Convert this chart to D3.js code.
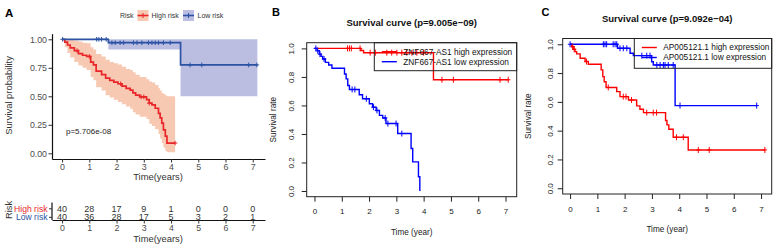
<!DOCTYPE html>
<html><head><meta charset="utf-8">
<script src="https://cdn.jsdelivr.net/npm/d3@7"></script>
<style>body{margin:0;background:#fff}svg{display:block;font-family:"Liberation Sans",Arial,Helvetica,sans-serif}</style>
</head><body><svg id="c" width="780" height="251"></svg>
<script>
// ---------- Panel A data ----------
const timeTicks = [0,1,2,3,4,5,6,7];
const survTicksA = [0,0.25,0.5,0.75,1];
const riskGroups = ["High risk","Low risk"];
const aHighT = [0,0.1,0.2,0.3,0.45,0.6,0.75,0.9,1.05,1.15,1.25,1.45,1.6,1.75,1.9,2.05,2.2,2.35,2.5,2.6,2.7,2.85,3.1,3.2,3.3,3.42,3.54,3.6,3.66,3.72,3.79,3.85,4.15];
const aHighS = [1,0.975,0.95,0.925,0.9,0.875,0.86,0.85,0.8,0.775,0.72,0.69,0.66,0.64,0.625,0.61,0.59,0.57,0.555,0.53,0.51,0.495,0.47,0.44,0.425,0.395,0.35,0.31,0.265,0.205,0.15,0.09,0.09];
const aHighU = [1,1,1,1,0.99,0.98,0.97,0.965,0.93,0.91,0.87,0.85,0.82,0.8,0.79,0.78,0.76,0.74,0.73,0.71,0.69,0.67,0.65,0.63,0.62,0.6,0.57,0.55,0.53,0.52,0.51,0.5,0.5];
const aHighL = [1,0.93,0.88,0.84,0.8,0.77,0.75,0.73,0.67,0.64,0.58,0.55,0.51,0.49,0.47,0.45,0.43,0.41,0.39,0.36,0.34,0.32,0.3,0.26,0.24,0.21,0.17,0.13,0.09,0.05,0.02,0.01,0.01];
const aHighCens = [0.55,1.0,2.15,2.9,3.0,3.2,4.15];
const aLowT = [0,1.7,4.35,7.17];
const aLowS = [1,0.97,0.775,0.775];
const aLowU = [1,1,1,1];
const aLowL = [1,0.91,0.5,0.5];
const aLowCens = [0.02,1.27,1.35,1.45,1.62,1.83,1.95,2.13,2.26,2.62,2.75,2.93,3.17,3.3,3.42,3.54,3.72,3.97,4.7,5.13,6.85,7.15];
const riskHigh = [40,28,17,9,1,0,0,0];
const riskLow = [40,36,28,17,5,3,2,1];
const pA = "p=5.706e-08";

// ---------- Panel B data ----------
const survTicksBC = [0,0.2,0.4,0.6,0.8,1.0];
const bHighT = [0,1.7,1.8,4.36,7.1];
const bHighS = [1,0.985,0.97,0.78,0.78];
const bHighCens = [1.21,1.28,1.35,1.67,2.04,2.23,2.65,2.83,3.02,3.2,3.38,3.57,3.75,4.0,4.67,5.09,6.8,7.1];
const bLowT = [0,0.1,0.18,0.24,0.3,0.4,0.52,0.64,1.1,1.16,1.22,1.28,1.64,1.76,2.01,2.13,2.26,2.38,2.5,2.62,3.05,3.54,3.6,3.81,3.86];
const bLowS = [1,0.984,0.96,0.944,0.926,0.902,0.884,0.861,0.82,0.786,0.74,0.712,0.675,0.647,0.612,0.588,0.565,0.53,0.512,0.473,0.403,0.298,0.204,0.1,0];
const bLowCens = [0.05,0.12,0.2,0.35,1.38,1.48,1.9,2.16,2.29,2.59,2.69,2.99,3.2];
const bTitle = "Survival curve (p=9.005e\u221209)";
const bLegend = ["ZNF667-AS1 high expression","ZNF667-AS1 low expression"];

// ---------- Panel C data ----------
const cHighT = [0,0.06,0.12,0.18,0.24,0.37,0.55,0.67,1.14,1.2,1.25,1.32,1.71,1.83,2.14,2.44,2.56,2.69,3.5,3.55,3.62,3.78,4.33,7.14];
const cHighS = [1,0.983,0.965,0.949,0.933,0.903,0.88,0.861,0.822,0.775,0.74,0.7,0.671,0.636,0.613,0.572,0.549,0.525,0.47,0.44,0.41,0.354,0.266,0.266];
const cHighCens = [0.1,0.15,0.6,1.4,1.95,2.05,2.25,2.81,3.05,3.17,3.9,4.15,4.7,5.1,7.14];
const cLowT = [0,1.74,2.2,2.32,2.99,3.05,3.85,6.84];
const cLowS = [1,0.972,0.9375,0.921,0.879,0.856,0.574,0.574];
const cLowCens = [0.0,1.22,1.28,1.34,1.58,1.65,1.71,1.83,1.95,2.08,2.63,2.81,2.93,3.18,3.3,3.42,3.48,3.6,3.78,4.03,6.84];
const cTitle = "Survival curve (p=9.092e\u221204)";
const cLegend = ["AP005121.1 high expression","AP005121.1 low expression"];

// ---------- helpers ----------
const svg = d3.select("#c");
function stepVal(T,S,t){let v=S[0];for(let i=0;i<T.length;i++){if(T[i]<=t+1e-9)v=S[i];}return v;}
function curve(g,x,y,T,S,color,w){
  const line=d3.line().x(d=>x(d[0])).y(d=>y(d[1])).curve(d3.curveStepAfter);
  g.append("path").datum(T.map((t,i)=>[t,S[i]])).attr("d",line).attr("fill","none").attr("stroke",color).attr("stroke-width",w);
}
function band(g,x,y,T,L,U,fill){
  const area=d3.area().x(d=>x(d[0])).y0(d=>y(d[1])).y1(d=>y(d[2])).curve(d3.curveStepAfter);
  g.append("path").datum(T.map((t,i)=>[t,L[i],U[i]])).attr("d",area).attr("fill",fill).attr("stroke","none");
}
function cens(g,x,y,C,T,S,color,h,wd,sw){
  C.forEach(t=>{const cx=x(t),cy=y(stepVal(T,S,t));
    g.append("path").attr("d",`M${cx-wd},${cy}H${cx+wd}M${cx},${cy-h}V${cy+h}`).attr("stroke",color).attr("stroke-width",sw).attr("fill","none");});
}

// ================= Panel A =================
const redA="#E8262A", blueA="#2B52A3";
const xA=d3.scaleLinear().domain([-0.37,7.45]).range([52,265]);
const yA=d3.scaleLinear().domain([-0.05,1.05]).range([159,33.6]);
const gA=svg.append("g");
gA.append("text").attr("x",5).attr("y",16.5).attr("font-size",11.5).attr("font-weight","bold").text("A");
// legend
const lg=gA.append("g").attr("font-size",7).attr("fill","#333");
lg.append("text").attr("x",120).attr("y",18).text("Risk");
[[137.5,"#F8C9B2",redA,"High risk",151.5],[183,"#BBBEE0",blueA,"Low risk",197.5]].forEach(k=>{
  lg.append("rect").attr("x",k[0]).attr("y",10).attr("width",11).attr("height",11).attr("fill",k[1]);
  lg.append("line").attr("x1",k[0]).attr("x2",k[0]+11).attr("y1",15.5).attr("y2",15.5).attr("stroke",k[2]).attr("stroke-width",1.6);
  lg.append("path").attr("d",`M${k[0]+5.5},13V18`).attr("stroke",k[2]).attr("stroke-width",1);
  lg.append("text").attr("x",k[4]).attr("y",18).text(k[3]);
});
band(gA,xA,yA,aHighT,aHighL,aHighU,"#F8C9B2");
band(gA,xA,yA,aLowT,aLowL,aLowU,"#BBBEE0");
curve(gA,xA,yA,aHighT,aHighS,redA,1.7);
curve(gA,xA,yA,aLowT,aLowS,blueA,1.7);
cens(gA,xA,yA,aHighCens,aHighT,aHighS,redA,2.3,2.3,1);
cens(gA,xA,yA,aLowCens,aLowT,aLowS,blueA,2.3,2.3,1);
function styleA(sel){sel.select(".domain").attr("stroke","#111").attr("stroke-width",1.2);
  sel.selectAll(".tick line").attr("stroke","#333");
  sel.selectAll(".tick text").attr("fill","#4D4D4D").attr("font-size",8.8).attr("font-family","Liberation Sans, Arial, sans-serif");}
gA.append("g").attr("transform","translate(0,159)").call(d3.axisBottom(xA).tickValues(timeTicks).tickSize(3.5).tickSizeOuter(0).tickPadding(1.5)).call(styleA);
gA.append("g").attr("transform","translate(52,0)").call(d3.axisLeft(yA).tickValues(survTicksA).tickFormat(d3.format(".2f")).tickSize(3.5).tickSizeOuter(0).tickPadding(1.5)).call(styleA);
gA.append("text").attr("x",158).attr("y",180).attr("text-anchor","middle").attr("font-size",9.4).attr("fill","#333").text("Time(years)");
gA.append("text").attr("transform","translate(8,95.5) rotate(-90)").attr("text-anchor","middle").attr("dominant-baseline","central").attr("font-size",9.4).attr("fill","#333").text("Survival probability");
gA.append("text").attr("x",66).attr("y",133.8).attr("font-size",8).attr("fill","#222").text(pA);
// risk table
const yT=d3.scalePoint().domain(riskGroups).range([208.3,216.8]);
const tab=gA.append("g");
tab.append("line").attr("x1",52).attr("x2",52).attr("y1",202.5).attr("y2",220).attr("stroke","#111").attr("stroke-width",1.2);
const ax=tab.append("g").attr("transform","translate(52,0)").call(d3.axisLeft(yT).tickSize(3).tickSizeOuter(0).tickPadding(1.5));
ax.select(".domain").remove();
ax.selectAll(".tick line").attr("stroke","#333");
ax.selectAll(".tick text").attr("font-size",8.6).attr("font-family","Liberation Sans, Arial, sans-serif").attr("fill",d=>d==="High risk"?redA:blueA);
[[riskHigh,"High risk"],[riskLow,"Low risk"]].forEach(r=>{
  tab.selectAll(null).data(r[0]).enter().append("text").attr("x",(d,i)=>xA(timeTicks[i])).attr("y",yT(r[1])).attr("dy","0.36em")
    .attr("text-anchor","middle").attr("font-size",9).attr("fill","#333").text(d=>d);
});
tab.append("g").attr("transform","translate(0,220)").call(d3.axisBottom(xA).tickValues(timeTicks).tickSize(3.5).tickSizeOuter(0).tickPadding(1.5)).call(styleA);
tab.append("text").attr("x",158).attr("y",242).attr("text-anchor","middle").attr("font-size",9.4).attr("fill","#333").text("Time(years)");
tab.append("text").attr("transform","translate(8,210) rotate(-90)").attr("text-anchor","middle").attr("dominant-baseline","central").attr("font-size",9.4).attr("fill","#333").text("Risk");

// ================= Panels B & C =================
function basePanel(o){
  const g=svg.append("g");
  const x=d3.scaleLinear().domain(o.xd).range([o.l,o.r]);
  const y=d3.scaleLinear().domain([-0.04,1.04]).range([o.b,o.t]);
  g.append("text").attr("x",o.labX).attr("y",15.5).attr("font-size",11).attr("font-weight","bold").text(o.lab);
  g.append("text").attr("x",(o.l+o.r)/2).attr("y",o.titleY).attr("text-anchor","middle").attr("font-size",9.5).attr("font-weight","bold").attr("fill","#111").text(o.title);
  curve(g,x,y,o.hT,o.hS,"#FF0000",1.4);
  curve(g,x,y,o.lT,o.lS,"#0000FF",1.4);
  cens(g,x,y,o.hC,o.hT,o.hS,"#FF0000",3,2.2,1);
  cens(g,x,y,o.lC,o.lT,o.lS,"#0000FF",3,2.2,1);
  g.append("rect").attr("x",o.l).attr("y",o.t).attr("width",o.r-o.l).attr("height",o.b-o.t).attr("fill","none").attr("stroke","#222").attr("stroke-width",1);
  const xa=g.append("g").attr("transform",`translate(0,${o.b})`).call(d3.axisBottom(x).tickValues(timeTicks).tickSize(5).tickSizeOuter(0).tickPadding(7));
  xa.select(".domain").remove();
  xa.selectAll(".tick line").attr("stroke","#222");
  xa.selectAll(".tick text").attr("font-size",8).attr("fill","#222").attr("font-family","Liberation Sans, Arial, sans-serif");
  const ya=g.append("g").attr("transform",`translate(${o.l},0)`).call(d3.axisLeft(y).tickValues(survTicksBC).tickFormat(d3.format(".1f")).tickSize(5).tickSizeOuter(0));
  ya.select(".domain").remove();
  ya.selectAll(".tick line").attr("stroke","#222");
  ya.selectAll(".tick text").remove();
  ya.selectAll(".tick").append("text").attr("transform",`translate(${o.ytx-o.l},0) rotate(-90)`).attr("text-anchor","middle").attr("dominant-baseline","central")
    .attr("font-size",8).attr("fill","#222").attr("font-family","Liberation Sans, Arial, sans-serif").text(d=>d3.format(".1f")(d));
  g.append("text").attr("x",(o.l+o.r)/2).attr("y",o.xtY).attr("text-anchor","middle").attr("font-size",8.2).attr("fill","#222").text("Time (year)");
  g.append("text").attr("transform",`translate(${o.ylX},${(o.t+o.b)/2}) rotate(-90)`).attr("text-anchor","middle").attr("dominant-baseline","central").attr("font-size",8.2).attr("fill","#222").text("Survival rate");
  // legend
  const lgb=g.append("g");
  lgb.append("rect").attr("x",o.legX).attr("y",o.t).attr("width",o.r-o.legX).attr("height",o.legH).attr("fill","none").attr("stroke","#222").attr("stroke-width",1);
  o.leg.forEach((s,i)=>{
    const yy=o.t+9+i*10;
    lgb.append("line").attr("x1",o.legX+7.5).attr("x2",o.legX+22.5).attr("y1",yy).attr("y2",yy).attr("stroke",i?"#0000FF":"#FF0000").attr("stroke-width",1.4);
    lgb.append("text").attr("x",o.legX+29).attr("y",yy).attr("dy","0.35em").attr("font-size",8.3).attr("fill","#111").text(s);
  });
}
basePanel({l:306.7,r:516.7,t:42.7,b:196.7,xd:[-0.285,7.41],lab:"B",labX:272,title:bTitle,titleY:25.5,
  hT:bHighT,hS:bHighS,hC:bHighCens,lT:bLowT,lS:bLowS,lC:bLowCens,ytx:291.7,xtY:234.5,ylX:273,legX:374.3,legH:28,leg:bLegend});
basePanel({l:562.7,r:771.7,t:38.5,b:194,xd:[-0.27,7.39],lab:"C",labX:541.5,title:cTitle,titleY:22.2,
  hT:cHighT,hS:cHighS,hC:cHighCens,lT:cLowT,lS:cLowS,lC:cLowCens,ytx:550.7,xtY:232,ylX:528.5,legX:634.3,legH:29.8,leg:cLegend});
</script></body></html>
